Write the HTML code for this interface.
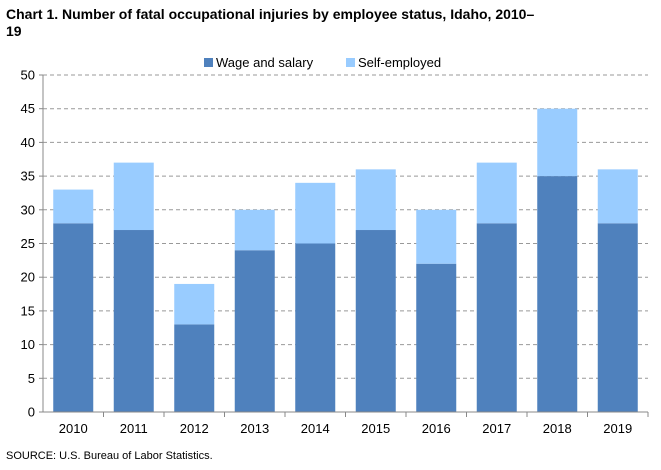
<!DOCTYPE html>
<html><head><meta charset="utf-8"><style>
body{margin:0;background:#fff;font-family:"Liberation Sans",Arial,sans-serif;}
</style></head><body>
<svg width="661" height="465" xmlns="http://www.w3.org/2000/svg" font-family="Liberation Sans, Arial, sans-serif">
<text x="6" y="19" font-size="14" font-weight="bold">Chart 1. Number of fatal occupational injuries by employee status, Idaho, 2010–</text>
<text x="6" y="36" font-size="14" font-weight="bold">19</text>
<g>
<rect x="204" y="58" width="9" height="9" fill="#4f81bd"/>
<text x="216" y="67" font-size="13">Wage and salary</text>
<rect x="346" y="58" width="9" height="9" fill="#99ccff"/>
<text x="358" y="67" font-size="13">Self-employed</text>
</g>
<g id="plot"></g>
<text x="6" y="459" font-size="11">SOURCE: U.S. Bureau of Labor Statistics.</text>
</svg>
<script>
const categories=["2010","2011","2012","2013","2014","2015","2016","2017","2018","2019"];
const wageSalary=[28,27,13,24,25,27,22,28,35,28];
const selfEmployed=[5,10,6,6,9,9,8,9,10,8];
const yTicks=[0,5,10,15,20,25,30,35,40,45,50];
const NS="http://www.w3.org/2000/svg";
const g=document.getElementById('plot');
const L=43,R=648,T=75,B=412,yMax=50;
const y=v=>B-(v/yMax)*(B-T);
const slot=(R-L)/categories.length;
const xc=i=>L+slot*(i+0.5);
const bw=40;
function mk(t,a){const e=document.createElementNS(NS,t);for(const k in a)e.setAttribute(k,a[k]);g.appendChild(e);return e;}
yTicks.forEach(v=>{
  if(v>0){const l=mk('line',{x1:L,x2:R,y1:y(v),y2:y(v),stroke:'#999','stroke-dasharray':'4,3'});
  
  }
  const tk=mk('line',{x1:L-4,x2:L,y1:y(v),y2:y(v),stroke:'#888'});
  
  
  const t=mk('text',{x:L-8,y:y(v)+4.5,'font-size':13,'text-anchor':'end'});
  t.textContent=v;
  
  
});
categories.forEach((c,i)=>{
  const w=wageSalary[i],s=selfEmployed[i];
  const r1=mk('rect',{x:xc(i)-bw/2,y:y(w),width:bw,height:B-y(w),fill:'#4f81bd'});
  
  
  const r2=mk('rect',{x:xc(i)-bw/2,y:y(w+s),width:bw,height:y(w)-y(w+s),fill:'#99ccff'});
  
  
  const t=mk('text',{x:xc(i),y:B+21,'font-size':13,'text-anchor':'middle'});
  t.textContent=c;
  
  
  const tk=mk('line',{x1:L+slot*(i+1),x2:L+slot*(i+1),y1:B,y2:B+5,stroke:'#888'});
  
  
});
const ya=mk('line',{x1:L,x2:L,y1:T,y2:B,stroke:'#888'});


const xa=mk('line',{x1:L,x2:R,y1:B,y2:B,stroke:'#888'});


</script>
</body></html>
